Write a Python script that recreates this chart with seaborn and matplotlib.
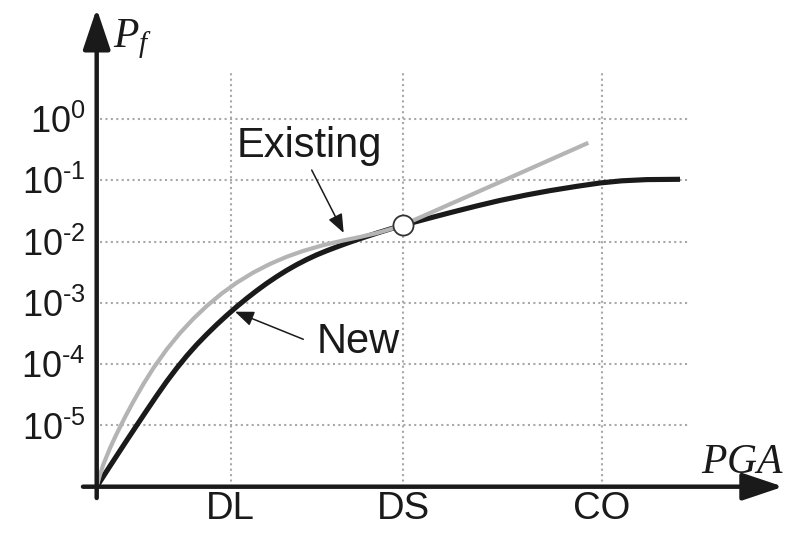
import numpy as np
import pandas as pd
import matplotlib.pyplot as plt
import seaborn as sns

# fragility curves (x = PGA in arbitrary units, y = log10 Pf)
pga_new = [0, 0.1, 0.2, 0.3, 0.4, 0.5, 0.6, 0.7, 0.8, 0.9, 1.0, 1.1, 1.2, 1.3, 1.4,
           1.5, 1.6, 1.7, 1.8, 1.9, 2.0, 2.1, 2.2, 2.3, 2.4, 2.5, 2.6, 2.7, 2.8, 2.9,
           3.0, 3.066, 3.3, 3.533, 3.8, 4.033, 4.3, 4.533, 4.8, 5.033, 5.25, 5.5, 5.833]
logpf_new = [-6, -5.746, -5.495, -5.246, -5.0, -4.756, -4.515, -4.283, -4.067, -3.867,
             -3.683, -3.515, -3.356, -3.206, -3.063, -2.929, -2.802, -2.683, -2.573,
             -2.471, -2.378, -2.294, -2.218, -2.151, -2.089, -2.029, -1.972, -1.917,
             -1.864, -1.813, -1.764, -1.732, -1.63, -1.53, -1.42, -1.33, -1.24, -1.17,
             -1.10, -1.045, -1.01, -0.99, -0.985]
pga_old = [0, 0.033, 0.067, 0.133, 0.2, 0.283, 0.366, 0.466, 0.566, 0.7, 0.833, 0.966,
           1.1, 1.25, 1.4, 1.566, 1.733, 1.9, 2.066, 2.266, 2.466, 2.633, 2.8, 2.933,
           3.066, 4.033, 4.916]
logpf_old = [-6, -5.802, -5.635, -5.371, -5.136, -4.866, -4.613, -4.328, -4.068, -3.76,
             -3.494, -3.261, -3.053, -2.849, -2.672, -2.506, -2.366, -2.249, -2.153,
             -2.059, -1.983, -1.926, -1.863, -1.80, -1.728, -1.03, -0.39]

# limit states on the PGA axis and the decades on the Pf axis
states = ['DL', 'DS', 'CO']
state_pga = [1.34, 3.066, 5.05]
decades = [0, -1, -2, -3, -4, -5]

# point where both curves meet
meet_pga = 3.066
meet_logpf = -1.735

df = pd.DataFrame({
    'pga': pga_new + pga_old,
    'Pf': 10 ** np.array(logpf_new + logpf_old),
    'curve': ['New'] * len(pga_new) + ['Existing'] * len(pga_old),
})

sns.set_style('white')
plt.rcParams['font.family'] = ['Liberation Sans', 'DejaVu Sans']
plt.rcParams['mathtext.fontset'] = 'custom'
plt.rcParams['mathtext.rm'] = 'Liberation Sans'
plt.rcParams['mathtext.it'] = 'Liberation Serif:italic'

ink = '#1a1a1a'
fig = plt.figure(figsize=(7.85, 5.36), dpi=100)
ax = fig.add_axes([96.7 / 785, 49.3 / 536, 1 - 96.7 / 785, 486.7 / 536])
ax.set_yscale('log')
ax.set_xlim(0, 6.883)
ax.set_ylim(1e-6, 10 ** 1.94)

# dotted grid
ax.hlines([10.0 ** d for d in decades], 0.03, 5.91, colors='#a8a8a8',
          linestyles=(0, (1, 1.6)), linewidth=1.5, zorder=1)
ax.vlines(state_pga, 1e-6, 10 ** 0.8, colors='#a8a8a8',
          linestyles=(0, (1, 1.6)), linewidth=1.5, zorder=1)

sns.lineplot(data=df, x='pga', y='Pf', hue='curve', hue_order=['New', 'Existing'],
             palette={'New': ink, 'Existing': '#b4b4b4'}, sort=False,
             estimator=None, legend=False, linewidth=3.4, ax=ax, zorder=3)
ax.lines[-2].set_linewidth(3.7)
ax.lines[-1].set_linewidth(3.0)
for ln in ax.lines[-2:]:
    ln.set_solid_joinstyle('round')
    ln.set_solid_capstyle('butt')

sns.scatterplot(x=[meet_pga], y=[10 ** meet_logpf], s=210, color='white',
                edgecolor='#333333', linewidth=1.3, zorder=6, ax=ax)

# axes drawn as arrows
axis_arrow = dict(arrowstyle='-|>,head_length=1.25,head_width=0.42', lw=3.2,
                  color=ink, mutation_scale=20, shrinkA=0, shrinkB=0, clip_on=False)
ax.annotate('', xy=(6.865, 1e-6), xytext=(-0.137, 1e-6), arrowprops=axis_arrow,
            annotation_clip=False)
ax.annotate('', xy=(0, 10 ** 1.80), xytext=(0, 10 ** -6.184), arrowprops=axis_arrow,
            annotation_clip=False)

# labels with pointers
pointer = dict(arrowstyle='-|>,head_length=0.95,head_width=0.38', lw=1.1,
               color=ink, mutation_scale=12, shrinkA=0, shrinkB=0)
ax.text(1.403, 10 ** -0.621, 'Existing', fontsize=30, color=ink, ha='left', va='baseline')
ax.annotate('', xy=(2.47, 10 ** -1.86), xytext=(2.15, 10 ** -0.834), arrowprops=pointer)
ax.text(2.20, 10 ** -3.82, 'New', fontsize=30, color=ink, ha='left', va='baseline')
ax.annotate('', xy=(1.383, 10 ** -3.145), xytext=(2.066, 10 ** -3.595), arrowprops=pointer)

# ticks
ax.set_yticks([10.0 ** d for d in decades])
ax.set_yticklabels([r'$\mathregular{10^{%s}}$' % str(d).replace('-', '\u2010') for d in decades])
ax.set_xticks(state_pga)
ax.set_xticklabels(states)
ax.tick_params(axis='y', length=0, pad=8, labelsize=26, labelcolor=ink)
ax.tick_params(axis='x', length=0, pad=3, labelsize=27.5, labelcolor=ink)
ax.minorticks_off()
ax.set_xlabel('')
ax.set_ylabel('')
for s in ax.spines.values():
    s.set_visible(False)

fig.text(113 / 785, 1 - 47 / 536, r'$P_f$', fontsize=30, color=ink, ha='left', va='baseline')
fig.text(701 / 785, 1 - 473 / 536, r'$PGA$', fontsize=30, color=ink, ha='left', va='baseline')

fig.savefig('out.png', dpi=100)
